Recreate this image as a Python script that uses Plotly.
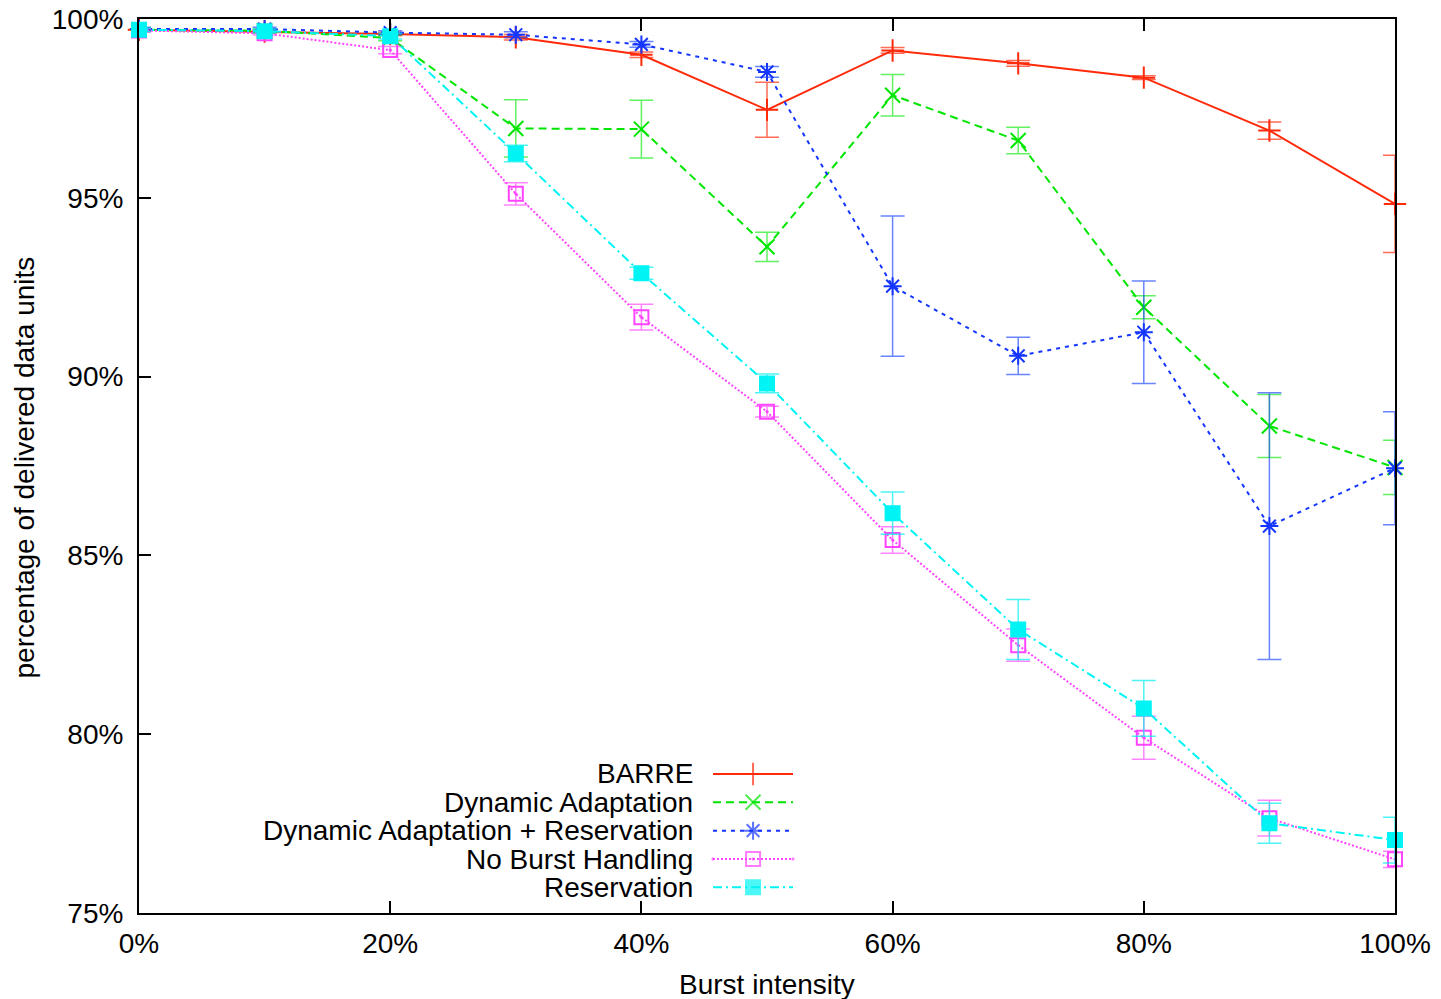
import plotly.graph_objects as go

# Burst intensity (%)
burst = [0, 10, 20, 30, 40, 50, 60, 70, 80, 90, 100]

# Mean percentage of delivered data units, with error half-widths
barre = [99.70, 99.65, 99.58, 99.49, 99.00, 97.46, 99.12, 98.76, 98.36, 96.88, 94.83]
barre_err = [0.05, 0.05, 0.05, 0.08, 0.08, 0.77, 0.08, 0.08, 0.05, 0.24, 1.36]

dyn = [99.70, 99.67, 99.47, 96.94, 96.92, 93.63, 97.87, 96.60, 91.94, 88.62, 87.46]
dyn_err = [0.05, 0.05, 0.08, 0.80, 0.81, 0.41, 0.58, 0.37, 0.32, 0.88, 0.76]

dyn_res = [99.72, 99.72, 99.62, 99.56, 99.29, 98.52, 92.53, 90.58, 91.24, 85.82, 87.44]
dyn_res_err = [0.05, 0.05, 0.05, 0.08, 0.08, 0.15, 1.96, 0.52, 1.43, 3.73, 1.58]

no_burst = [99.68, 99.60, 99.13, 95.11, 91.66, 89.02, 85.43, 82.49, 79.90, 77.65, 76.50]
no_burst_err = [0.05, 0.05, 0.10, 0.31, 0.36, 0.15, 0.37, 0.45, 0.60, 0.50, 0.23]

reserv = [99.70, 99.66, 99.52, 96.24, 92.89, 89.81, 86.18, 82.93, 80.72, 77.51, 77.04]
reserv_err = [0.05, 0.05, 0.08, 0.23, 0.17, 0.26, 0.59, 0.84, 0.78, 0.56, 0.64]

x_ticks = [0, 20, 40, 60, 80, 100]
x_labels = ["0%", "20%", "40%", "60%", "80%", "100%"]
y_ticks = [75, 80, 85, 90, 95, 100]
y_labels = ["75%", "80%", "85%", "90%", "95%", "100%"]

series = [
    ("BARRE", barre, barre_err, "#ff2a0a", "rgba(255,60,30,0.75)", "solid", "cross-thin-open", 16),
    ("Dynamic Adaptation", dyn, dyn_err, "#00e600", "rgba(30,235,30,0.7)", "8px,5px", "x-thin-open", 15),
    ("Dynamic Adaptation + Reservation", dyn_res, dyn_res_err, "#1436ff", "rgba(40,80,255,0.7)", "4px,5px", "asterisk-open", 15),
    ("No Burst Handling", no_burst, no_burst_err, "#ff44ff", "rgba(255,80,255,0.7)", "2px,2px", "square-open-dot", 14),
    ("Reservation", reserv, reserv_err, "#00f4f4", "rgba(0,240,240,0.7)", "9px,4px,2px,4px", "square", 14),
]

FONT = "Liberation Sans, Arial, Helvetica, sans-serif"
FSIZE = 28

fig = go.Figure()

for name, ys, errs, color, ecolor, dash, symbol, msize in series:
    fig.add_trace(go.Scatter(
        x=burst, y=ys, name=name, mode="lines+markers",
        line=dict(color=color, width=2, dash=dash),
        marker=dict(symbol=symbol, size=msize, color=color,
                    line=dict(color=color, width=2)),
        error_y=dict(type="data", array=errs, visible=True,
                     color=ecolor, thickness=1.5, width=12),
        cliponaxis=False, showlegend=False,
    ))

# Legend key: label on the left, line sample with marker on the right,
# drawn on an overlay axis spanning the plot area in unit coordinates.
row_top = 0.1555
row_step = 0.0317
key_x = [0.4570, 0.4889, 0.5207]
for i, (name, ys, errs, color, ecolor, dash, symbol, msize) in enumerate(series):
    yk = row_top - i * row_step
    fig.add_trace(go.Scatter(
        x=key_x, y=[yk] * 3, mode="lines+markers",
        line=dict(color=color, width=2, dash=dash),
        marker=dict(symbol=symbol, size=[0, msize, 0], color=color,
                    line=dict(color=color, width=2)),
        xaxis="x2", yaxis="y2", showlegend=False, hoverinfo="skip",
        cliponaxis=False,
    ))
    fig.add_annotation(
        x=0.4427, y=yk, xref="paper", yref="paper", text=name,
        showarrow=False, xanchor="right", yanchor="middle",
        font=dict(family=FONT, size=FSIZE, color="black"),
    )

# Axis titles
fig.add_annotation(
    x=-0.0908, y=0.4983, xref="paper", yref="paper",
    text="percentage of delivered data units", textangle=-90,
    showarrow=False, xanchor="center", yanchor="middle",
    font=dict(family=FONT, size=FSIZE, color="black"),
)
fig.add_annotation(
    x=0.5, y=-0.0805, xref="paper", yref="paper",
    text="Burst intensity",
    showarrow=False, xanchor="center", yanchor="middle",
    font=dict(family=FONT, size=FSIZE, color="black"),
)

fig.update_layout(
    width=1441, height=999,
    margin=dict(l=139, r=46, t=19, b=86, autoexpand=False),
    paper_bgcolor="white", plot_bgcolor="white",
    font=dict(family=FONT, size=FSIZE, color="black"),
    xaxis=dict(
        range=[0, 100], tickmode="array", tickvals=x_ticks, ticktext=x_labels,
        showgrid=False, zeroline=False, automargin=False,
        showline=True, linecolor="black", linewidth=2, mirror="ticks",
        ticks="inside", ticklen=12, tickwidth=2, tickcolor="black",
        ticklabelstandoff=4,
        tickfont=dict(family=FONT, size=FSIZE),
    ),
    yaxis=dict(
        range=[75, 100], tickmode="array", tickvals=y_ticks, ticktext=y_labels,
        showgrid=False, zeroline=False, automargin=False,
        showline=True, linecolor="black", linewidth=2, mirror=True,
        ticks="inside", ticklen=12, tickwidth=2, tickcolor="black",
        ticklabelstandoff=8,
        tickfont=dict(family=FONT, size=FSIZE),
    ),
    xaxis2=dict(overlaying="x", range=[0, 1], visible=False, fixedrange=True),
    yaxis2=dict(overlaying="y", range=[0, 1], visible=False, fixedrange=True),
)

fig.write_html("out.html")
